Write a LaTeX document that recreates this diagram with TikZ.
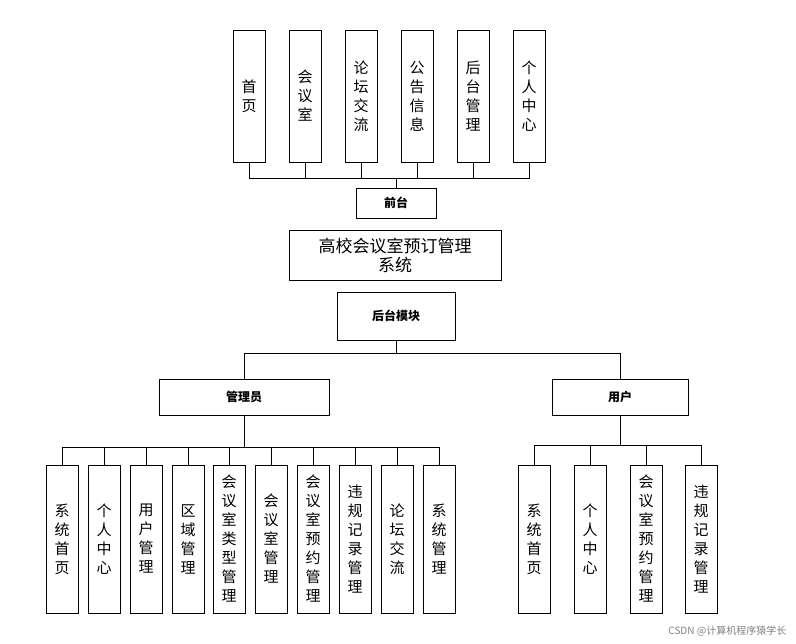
\documentclass[tikz,border=0pt]{standalone}
\usepackage{fontspec}
\setmainfont{Noto Sans CJK SC}
\begin{document}
\begin{tikzpicture}[x=1pt,y=-1pt,line width=0.8pt,
 vbox/.style={draw,minimum width=32pt,align=center,font=\fontsize{15}{19}\selectfont,inner sep=1pt},
 hbox/.style={draw,align=center,font=\fontsize{12}{15}\selectfont\bfseries}]
\useasboundingbox (0,0) rectangle (796,644);
% top
\foreach \n/\x/\t in {a/249/首\\页,b/305/会\\议\\室,c/361/论\\坛\\交\\流,d/417/公\\告\\信\\息,e/473/后\\台\\管\\理,f/529/个\\人\\中\\心}{
 \node[vbox,minimum height=132pt] (\n) at (\x,96) {\t};}
\node[hbox,minimum width=80pt,minimum height=30pt] (qt) at (396,203) {前台};
\node[draw,minimum width=212pt,minimum height=50pt,align=center,font=\fontsize{17}{19}\selectfont] (sys) at (395,255) {高校会议室预订管理\\系统};
\node[hbox,minimum width=118pt,minimum height=48pt] (ht) at (396,316) {后台模块};
\node[hbox,minimum width=170pt,minimum height=36pt] (adm) at (244,397) {管理员};
\node[hbox,minimum width=136pt,minimum height=36pt] (usr) at (620,397) {用户};
\foreach \n in {a,b,c,d,e,f}{\draw (\n.south) |- (396,178);}
\draw (a.south |- 0,178) -- (f.south |- 0,178);
\draw (396,178) -- (qt.north);
\draw (ht.south) -- (396,353);
\draw (244,353) -- (620,353);
\draw (244,353) -- (adm.north);
\draw (620,353) -- (usr.north);
% admin children
\foreach \n/\x/\t in {p1/62/系\\统\\首\\页,p2/104/个\\人\\中\\心,p3/146/用\\户\\管\\理,p4/188/区\\域\\管\\理,p5/229/会\\议\\室\\类\\型\\管\\理,p6/271/会\\议\\室\\管\\理,p7/313/会\\议\\室\\预\\约\\管\\理,p8/355/违\\规\\记\\录\\管\\理,p9/397/论\\坛\\交\\流,p10/439/系\\统\\管\\理}{
 \node[vbox,minimum height=148pt] (\n) at (\x,539) {\t};
 \draw (\n.north) -- (\x,447);}
\draw (62,447) -- (439,447);
\draw (adm.south) -- (244,447);
\foreach \n/\x/\t in {q1/534/系\\统\\首\\页,q2/590/个\\人\\中\\心,q3/646/会\\议\\室\\预\\约\\管\\理,q4/701/违\\规\\记\\录\\管\\理}{
 \node[vbox,minimum height=148pt] (\n) at (\x,539) {\t};
 \draw (\n.north) -- (\x,445);}
\draw (534,445) -- (701,445);
\draw (usr.south) -- (620,445);
\node[anchor=east,text=gray,font=\fontsize{10}{12}\selectfont] (wm) at (790,631) {CSDN @计算机程序猿学长};
\end{tikzpicture}
\end{document}
